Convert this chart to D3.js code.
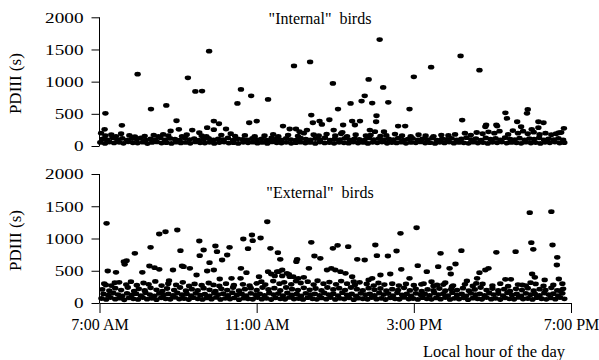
<!DOCTYPE html>
<html>
<head>
<meta charset="utf-8">
<script src="https://cdn.jsdelivr.net/npm/d3@7/dist/d3.min.js"></script>
<style>
  body { margin: 0; background: #fff; }
  svg { display: block; font-family: "Liberation Serif", "Times New Roman", serif; }
</style>
</head>
<body>
<script>
// ---- data: [hour of day, PDIII seconds] ----

var yTicks = [0, 500, 1000, 1500, 2000];
var xTicks = [7, 11, 15, 19];
var xTickLabels = ["7:00 AM", "11:00 AM", "3:00 PM", "7:00 PM"];

// "Internal" birds
var internalHigh = [
  [7.15,507],[7.13,259],[7.57,321],[7.97,1116],[8.31,574],[8.70,631],[8.96,392],[8.81,233],
  [9.02,259],[9.25,1059],[9.44,848],[9.61,853],[9.79,1473],[9.91,388],[10.04,346],[9.74,284],
  [9.91,253],[9.36,248],[9.54,206],[10.22,264],[10.34,191],[10.51,662],[10.60,879],[10.86,780],
  [10.81,361],[11.0,388],[11.29,724],[11.67,310],[11.95,1245],[12.36,1307],[12.94,972],[12.39,481],
  [12.43,361],[12.6,388],[12.66,336],[12.85,408],[11.84,264],[12.0,264],[12.09,222],[12.28,248],
  [13.07,574],[13.39,662],[13.67,698],[13.75,780],[13.85,1034],[14.13,1654],[14.22,910],[13.94,667],
  [14.35,678],[15.0,1075],[14.89,574],[13.2,326],[13.43,388],[13.5,326],[13.63,388],[14.05,470],
  [14.04,377],[13.88,248],[14.01,222],[14.24,222],[14.6,310],[14.78,310],[12.96,248],[13.18,212],
  [15.44,1225],[16.19,1400],[16.67,1178],[16.23,403],[17.33,516],[17.37,429],[17.63,377],[17.9,569],
  [17.88,507],[18.17,377],[18.3,361],[17.73,299],[17.12,310],[16.82,299],[18.0,259],[18.17,284],
  [18.82,274],[18.69,206],[16.84,326],[17.1,326]
];
var internalLow = [
  [7.02,55],[7.14,40],[7.25,62],[7.37,48],[7.5,58],[7.61,42],[7.73,66],[7.85,50],[7.97,45],[8.1,60],
  [8.22,38],[8.34,55],[8.46,64],[8.58,47],[8.7,52],[8.83,40],[8.95,60],[9.07,48],[9.19,55],[9.31,42],
  [9.44,63],[9.56,50],[9.68,45],[9.8,58],[9.92,40],[10.05,54],[10.17,62],[10.29,46],[10.41,52],[10.53,40],
  [10.66,58],[10.78,49],[10.9,60],[11.02,44],[11.14,55],[11.27,40],[11.39,63],[11.51,50],[11.63,45],[11.75,57],
  [11.88,42],[12.0,52],[12.12,60],[12.24,47],[12.36,55],[12.49,40],[12.61,62],[12.73,48],[12.85,53],[12.97,41],
  [13.1,58],[13.22,50],[13.34,44],[13.46,61],[13.58,47],[13.71,55],[13.83,40],[13.95,57],[14.07,49],[14.19,62],
  [14.32,43],[14.44,54],[14.56,48],[14.68,60],[14.8,42],[14.93,55],[15.05,50],[15.17,63],[15.29,45],[15.41,52],
  [15.54,40],[15.66,58],[15.78,48],[15.9,61],[16.02,44],[16.15,55],[16.27,50],[16.39,42],[16.51,60],[16.63,47],
  [16.76,53],[16.88,40],[17.0,58],[17.12,49],[17.24,62],[17.37,44],[17.49,55],[17.61,50],[17.73,42],[17.85,60],
  [17.98,47],[18.1,54],[18.22,40],[18.34,58],[18.46,49],[18.59,61],[18.71,45],[18.83,52],
  [7.08,110],[7.2,95],[7.33,130],[7.45,100],[7.58,120],[7.7,90],[7.83,115],[7.95,105],[8.05,125],[8.18,92],
  [8.3,112],[8.42,100],[8.55,130],[8.67,95],[8.8,118],[8.92,105],[9.04,90],[9.17,125],[9.29,100],[9.41,115],
  [9.53,92],[9.66,108],[9.78,120],[9.9,95],[10.02,110],[10.15,100],[10.27,125],[10.4,90],[10.52,112],[10.64,104],
  [10.77,95],[10.89,120],[11.01,100],[11.13,112],[11.26,92],[11.38,125],[11.5,105],[11.62,95],[11.75,118],[11.87,100],
  [12.0,90],[12.12,122],[12.25,108],[12.37,96],[12.5,115],[12.62,100],[12.74,128],[12.87,92],[12.99,110],[13.12,100],
  [13.24,120],[13.37,95],[13.49,112],[13.61,104],[13.74,90],[13.86,125],[13.98,100],[14.11,115],[14.23,95],[14.36,110],
  [14.48,100],[14.6,122],[14.73,92],[14.85,108],[14.97,118],[15.1,96],[15.22,110],[15.35,100],[15.47,125],[15.59,90],
  [15.72,112],[15.84,104],[15.96,120],[16.09,95],[16.21,110],[16.34,130],[16.46,100],[16.58,115],[16.71,92],[16.83,125],
  [16.95,105],[17.08,118],[17.2,96],[17.32,130],[17.45,108],[17.57,100],[17.69,122],[17.82,95],[17.94,115],[18.06,105],
  [18.19,128],[18.31,96],[18.43,112],[18.56,100],[18.68,120],[18.8,95],
  [7.04,200],[7.15,160],[7.3,175],[7.42,150],[7.55,190],[7.76,165],[7.9,145],[8.15,155],[8.38,170],[8.5,150],
  [8.62,180],[8.75,160],[9.1,150],[9.22,175],[9.6,160],[9.72,150],[10.1,170],[10.45,155],[10.7,165],[10.95,150],
  [11.2,160],[11.42,180],[11.55,150],[11.8,170],[12.05,155],[12.2,200],[12.45,175],[12.58,160],[12.78,185],[13.0,160],
  [13.15,190],[13.3,150],[13.52,175],[13.78,160],[13.9,170],[14.15,155],[14.3,165],[14.52,185],[14.7,160],[14.92,150],
  [15.12,175],[15.3,160],[15.5,150],[15.7,170],[15.88,165],[16.05,180],[16.3,200],[16.45,170],[16.6,210],[16.75,190],
  [16.9,220],[17.05,200],[17.18,230],[17.4,180],[17.52,240],[17.65,200],[17.78,230],[17.9,190],[18.05,215],[18.2,180],
  [18.35,200],[18.5,175],[18.62,190],[18.75,210]
];

// "External" birds
var externalHigh = [
  [7.18,1235],[7.21,496],[7.42,476],[7.16,279],[7.39,315],[7.62,640],[7.69,656],[7.64,600],[7.90,770],[8.09,476],
  [8.30,863],[8.27,574],[8.40,548],[8.52,522],[8.52,1070],[8.68,1105],[8.98,1132],[9.06,811],[8.77,346],[8.87,512],
  [9.1,574],[9.14,563],[9.3,538],[9.47,434],[9.54,961],[9.55,734],[9.65,822],[9.8,625],[9.95,884],[9.99,796],
  [10.12,667],[10.25,744],[10.31,863],[10.06,372],[9.91,512],[9.74,496],[10.36,383],[10.59,383],[10.66,992],[10.78,842],
  [10.88,1054],[10.9,966],[11.1,1008],[11.27,1260],[11.06,408],[10.6,538],[10.74,470],[11.35,848],[11.54,780],[11.6,677],
  [11.52,486],[11.65,419],[11.77,460],[11.84,408],[12.03,677],[12.01,640],[11.29,486],[11.37,450],[11.46,419],[11.56,486],
  [11.65,512],[11.82,445],[11.93,408],[12.06,383],[12.2,398],[12.33,538],[12.39,941],[12.47,729],[12.62,693],[12.94,848],
  [13.06,894],[13.33,873],[12.79,512],[12.9,538],[13.0,512],[13.13,486],[13.26,460],[13.43,408],[13.47,330],[13.56,677],
  [13.75,667],[14.02,899],[14.06,734],[14.34,729],[14.56,806],[14.66,1080],[15.07,1167],[15.1,578],[14.68,522],[14.4,450],
  [14.15,434],[13.94,383],[14.89,383],[13.85,357],[15.33,486],[15.68,770],[15.62,563],[15.91,538],[15.94,450],[16.06,605],
  [16.21,811],[16.35,341],[16.61,383],[16.59,305],[16.67,470],[16.82,512],[16.9,538],[17.1,786],[17.33,367],[17.47,367],
  [17.59,796],[17.76,279],[17.97,315],[17.95,1400],[18.5,1416],[17.99,935],[18.04,832],[18.53,899],[18.65,708],[18.64,589],
  [18.69,372],[18.01,450],[18.08,398],[18.33,357],[15.19,290],[15.45,330],[15.59,279],[15.8,315],[15.97,253],[18.73,191]
];
var externalLow = [
  [7.05,70],[7.17,55],[7.28,85],[7.4,60],[7.52,75],[7.63,50],[7.75,80],[7.86,65],[7.98,55],[8.1,85],
  [8.21,60],[8.33,72],[8.45,52],[8.57,80],[8.68,64],[8.8,58],[8.92,88],[9.03,62],[9.15,70],[9.27,54],
  [9.38,82],[9.5,66],[9.62,56],[9.73,78],[9.85,60],[9.97,86],[10.08,55],[10.2,72],[10.32,62],[10.43,80],
  [10.55,52],[10.67,75],[10.78,66],[10.9,58],[11.02,84],[11.13,60],[11.25,72],[11.37,54],[11.48,80],[11.6,64],
  [11.72,58],[11.83,86],[11.95,62],[12.07,70],[12.18,55],[12.3,82],[12.42,66],[12.53,57],[12.65,78],[12.77,60],
  [12.88,85],[13.0,55],[13.12,72],[13.23,62],[13.35,80],[13.47,52],[13.58,75],[13.7,66],[13.82,58],[13.93,84],
  [14.05,60],[14.17,72],[14.28,54],[14.4,80],[14.52,64],[14.63,58],[14.75,86],[14.87,62],[14.98,70],[15.1,55],
  [15.22,82],[15.33,66],[15.45,57],[15.57,78],[15.68,60],[15.8,85],[15.92,55],[16.03,72],[16.15,62],[16.27,80],
  [16.38,52],[16.5,75],[16.62,66],[16.73,58],[16.85,84],[16.97,60],[17.08,72],[17.2,54],[17.32,80],[17.43,64],
  [17.55,58],[17.67,86],[17.78,62],[17.9,70],[18.02,55],[18.13,82],[18.25,66],[18.37,57],[18.48,78],[18.6,60],
  [18.72,85],[18.83,65],
  [7.1,140],[7.22,120],[7.35,155],[7.47,130],[7.58,110],[7.7,150],[7.82,125],[7.93,145],[8.05,115],[8.17,160],
  [8.28,130],[8.4,112],[8.52,148],[8.63,125],[8.75,140],[8.87,118],[8.98,155],[9.1,128],[9.22,142],[9.33,115],
  [9.45,150],[9.57,122],[9.68,138],[9.8,112],[9.92,155],[10.03,130],[10.15,145],[10.27,118],[10.38,160],[10.5,125],
  [10.62,140],[10.73,114],[10.85,150],[10.97,128],[11.08,142],[11.2,118],[11.32,155],[11.43,130],[11.55,146],[11.67,115],
  [11.78,158],[11.9,125],[12.02,140],[12.13,112],[12.25,150],[12.37,128],[12.48,142],[12.6,118],[12.72,155],[12.83,130],
  [12.95,145],[13.07,115],[13.18,160],[13.3,125],[13.42,140],[13.53,112],[13.65,150],[13.77,128],[13.88,142],[14.0,118],
  [14.12,155],[14.23,130],[14.35,146],[14.47,115],[14.58,158],[14.7,125],[14.82,140],[14.93,112],[15.05,150],[15.17,128],
  [15.28,142],[15.4,118],[15.52,155],[15.63,130],[15.75,145],[15.87,115],[15.98,160],[16.1,125],[16.22,140],[16.33,112],
  [16.45,150],[16.57,128],[16.68,142],[16.8,118],[16.92,155],[17.03,130],[17.15,146],[17.27,115],[17.38,158],[17.5,125],
  [17.62,140],[17.73,112],[17.85,150],[17.97,128],[18.08,142],[18.2,118],[18.32,155],[18.43,130],[18.55,145],[18.67,115],
  [18.78,150],
  [7.07,210],[7.25,190],[7.4,230],[7.55,200],[7.72,240],[7.88,185],[8.0,220],[8.15,195],[8.3,235],[8.45,205],
  [8.6,185],[8.72,225],[8.9,200],[9.05,240],[9.2,190],[9.35,215],[9.5,195],[9.65,230],[9.8,205],[9.95,185],
  [10.1,220],[10.25,200],[10.4,240],[10.55,190],[10.7,215],[10.85,230],[11.0,200],[11.15,240],[11.3,210],[11.45,230],
  [11.6,195],[11.75,240],[11.9,215],[12.05,200],[12.2,235],[12.35,205],[12.5,225],[12.65,195],[12.8,240],[12.95,210],
  [13.1,230],[13.25,200],[13.4,240],[13.55,215],[13.7,195],[13.85,230],[14.0,205],[14.15,225],[14.3,190],[14.45,215],
  [14.6,200],[14.75,235],[14.9,195],[15.05,220],[15.2,185],[15.35,210],[15.5,195],[15.65,225],[15.8,190],[15.95,215],
  [16.1,200],[16.25,230],[16.4,190],[16.55,210],[16.7,240],[16.85,200],[17.0,225],[17.15,195],[17.3,215],[17.45,185],
  [17.6,220],[17.75,200],[17.9,230],[18.05,190],[18.2,215],[18.35,200],[18.5,235],[18.65,195],[18.8,220],
  [7.12,300],[7.3,270],[7.5,320],[7.68,285],[7.8,330],[7.95,275],[8.12,310],[8.25,290],[8.42,335],[8.58,270],
  [8.75,300],[8.95,280],[9.12,320],[9.28,265],[9.42,295],[9.6,275],[9.78,310],[9.9,280],[10.05,265],[10.22,300],
  [10.42,275],[10.65,290],[10.82,270],[11.0,305],[11.12,330],[11.22,285],[11.42,340],[11.58,300],[11.7,320],[11.88,290],
  [12.0,340],[12.12,310],[12.3,330],[12.45,285],[12.55,345],[12.7,300],[12.85,325],[13.02,290],[13.15,340],[13.3,300],
  [13.5,280],[13.62,320],[13.8,295],[13.98,270],[14.1,310],[14.25,285],[14.45,300],[14.62,270],[14.8,295],[15.0,275],
  [15.25,300],[15.5,265],[15.75,285],[16.0,270],[16.3,290],[16.5,265],[16.75,295],[17.0,270],[17.2,300],[17.4,260],
  [17.65,285],[17.85,270],[18.1,295],[18.3,265],[18.55,280],[18.78,300]
];

// ---- layout ----
var W = 599, H = 360;
var svg = d3.select("body").append("svg").attr("width", W).attr("height", H);

var x = d3.scaleLinear().domain([7, 19]).range([99.5, 571]);

function drawPanel(pts, top, bottom, title, titleY) {
  var y = d3.scaleLinear().domain([0, 2000]).range([bottom, top]);
  var g = svg.append("g");

  // points
  g.append("g").selectAll("ellipse")
    .data(pts)
    .enter().append("ellipse")
    .attr("cx", function(d) { return x(d[0]); })
    .attr("cy", function(d) { return y(d[1]); })
    .attr("rx", 3.2).attr("ry", 2.4)
    .style("fill", "#000");

  // y axis
  var yAxis = d3.axisLeft(y).tickValues(yTicks).tickFormat(d3.format("d"))
    .tickSize(8).tickSizeOuter(0).tickPadding(8);
  var ya = g.append("g").attr("transform", "translate(99.5,0)").call(yAxis);
  ya.attr("font-family", null);
  ya.select(".domain").remove();
  ya.append("line").attr("x1", 0).attr("x2", 0).attr("y1", top).attr("y2", bottom)
    .style("stroke", "#000");
  ya.selectAll("text")
    .style("font-family", "'Liberation Serif', serif")
    .style("font-size", "15px").style("fill", "#000")
    .attr("textLength", function(d) { return String(d).length * 9.6; })
    .attr("lengthAdjust", "spacingAndGlyphs");
  ya.selectAll(".tick line").style("stroke", "#000");

  // y label
  g.append("text")
    .attr("transform", "translate(21," + ((top + bottom) / 2 + 2) + ") rotate(-90)")
    .attr("text-anchor", "middle")
    .style("font-size", "17px")
    .text("PDIII (s)");

  // title
  g.append("text")
    .attr("x", 320).attr("y", titleY)
    .attr("text-anchor", "middle")
    .style("font-size", "16px")
    .style("white-space", "pre")
    .text(title);

  return y;
}

drawPanel(internalHigh.concat(internalLow), 17.3, 146, "\"Internal\"  birds", 24);
drawPanel(externalHigh.concat(externalLow), 174, 303, "\"External\"  birds", 198);

// x axis (bottom panel only)
var xAxis = d3.axisBottom(x).tickValues(xTicks).tickSize(10).tickSizeOuter(0).tickPadding(6)
  .tickFormat(function(d, i) { return xTickLabels[i]; });
var xa = svg.append("g").attr("transform", "translate(0,303)").call(xAxis);
xa.attr("font-family", null);
xa.selectAll("text").style("font-family", "'Liberation Serif', serif")
  .style("font-size", "16px").style("fill", "#000");
xa.selectAll("line, path").style("stroke", "#000");

svg.append("text")
  .attr("x", 494).attr("y", 357)
  .attr("text-anchor", "middle")
  .style("font-size", "16.5px")
  .text("Local hour of the day");
</script>
</body>
</html>
